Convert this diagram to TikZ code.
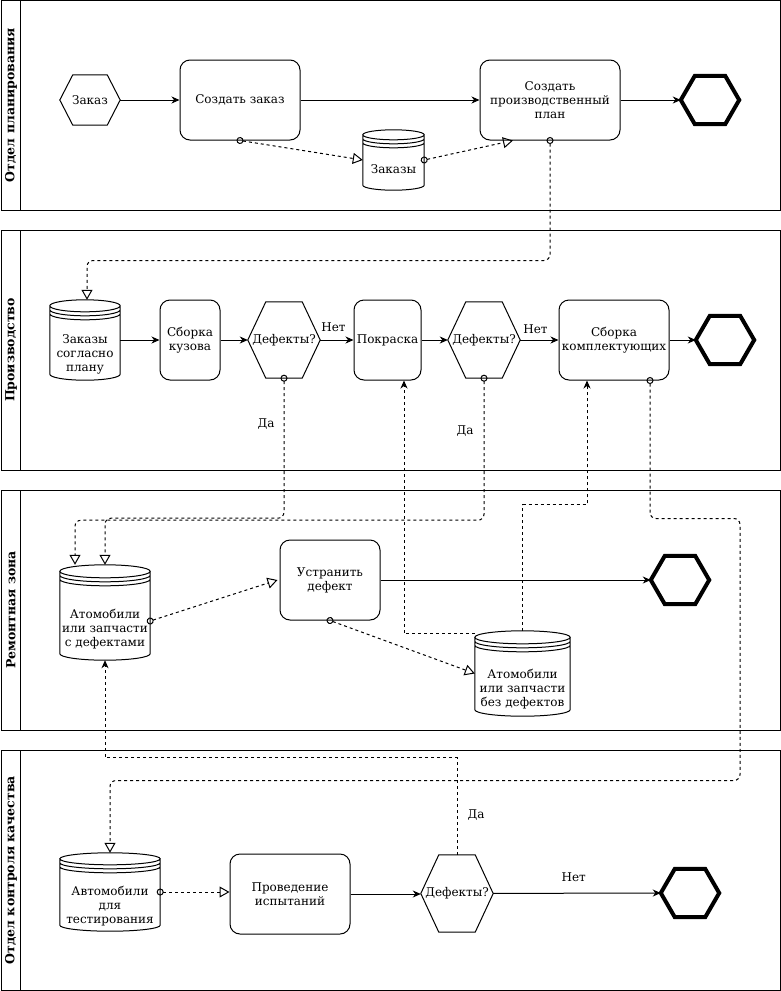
\documentclass[tikz,border=0pt]{standalone}
\usepackage{fontspec}
\setmainfont{DejaVu Serif}
\usetikzlibrary{arrows.meta,calc}

% one unit = 1pt, y grows downwards
\tikzset{
  x=1pt, y=-1pt,
  txt/.style={font=\fontsize{12}{14}\selectfont, align=center, inner sep=0pt},
  task/.style={txt, draw, line width=1pt, rounded corners=10pt},
  slot/.style={txt, minimum width=#1},
  lanetitle/.style={font=\fontsize{12.5}{14}\selectfont\bfseries, rotate=90, inner sep=0pt},
  lanebox/.style={line width=1pt},
  flow/.style={line width=1pt, -{Stealth[length=8pt, width=7pt, inset=2.5pt]}},
  data/.style={line width=1pt, dash pattern=on 3pt off 3pt,
    -{Triangle[open, length=10pt, width=11pt]}},
  origin/.style={shorten <=-3.5pt, {Circle[open, length=7pt]}-{Triangle[open, length=10pt, width=11pt]}},
  solidtip/.style={-{Stealth[length=8pt, width=7pt, inset=2.5pt]}},
  softcorner/.style={rounded corners=6pt},
  tag/.style={font=\fontsize{12}{14}\selectfont, inner sep=0pt},
  thin hex/.style={line width=1pt, line join=miter},
  end hex/.style={line width=4pt, line join=miter},
}

% hexagon drawn on the border box of a node
\newcommand\hexpath[3]{%
  \draw[#3] (#1.west) -- ([xshift=#2]#1.north west) -- ([xshift=-#2]#1.north east)
    -- (#1.east) -- ([xshift=-#2]#1.south east) -- ([xshift=#2]#1.south west) -- cycle;}

% data store: cylinder with two extra rims below the lid
\newcommand\storeshape[2]{%
  \draw[line width=1pt] let \p1=(#1.north west), \p2=(#1.south east) in
    (\x1,\y1-#2) -- (\x1,\y2+#2)
      arc[start angle=180, end angle=360, x radius={(\x2-\x1)/2}, y radius=#2]
      -- (\x2,\y1-#2)
    ({(\x1+\x2)/2},\y1-#2) ellipse[x radius={(\x2-\x1)/2}, y radius=#2]
    (\x1,\y1-#2-4pt) arc[start angle=180, end angle=360, x radius={(\x2-\x1)/2}, y radius=#2]
    (\x1,\y1-#2-8pt) arc[start angle=180, end angle=360, x radius={(\x2-\x1)/2}, y radius=#2];}

% text lowered inside a store without changing the node size
\newcommand\low[2]{\raisebox{-#1}[\height][\depth]{\begin{tabular}{@{}c@{}}#2\end{tabular}}}

\begin{document}
\begin{tikzpicture}
\useasboundingbox (0,0) rectangle (781,991);

% ---------- swimlanes ----------
\draw[lanebox] (1,0.5) rectangle (780,210);
\draw[lanebox] (20.5,0.5) -- (20.5,210);
\node[lanetitle] (l1) at (11,105) {Отдел планирования};

\draw[lanebox] (1,230) rectangle (780,470.5);
\draw[lanebox] (20.5,230) -- (20.5,470.5);
\node[lanetitle] (l2) at (11,350) {Производство};

\draw[lanebox] (1,490) rectangle (780,730.5);
\draw[lanebox] (20.5,490) -- (20.5,730.5);
\node[lanetitle] (l3) at (11,610) {Ремонтная зона};

\draw[lanebox] (1,750) rectangle (780,990);
\draw[lanebox] (20.5,750) -- (20.5,990);
\node[lanetitle] (l4) at (11,870) {Отдел контроля качества};

% ---------- planning ----------
\node[slot=60, minimum height=50] (order) at (90,100) {Заказ};
\hexpath{order}{13pt}{thin hex}
\node[task, minimum width=120, minimum height=80] (create) at (240,100) {Создать заказ};
\node[task, minimum width=140, minimum height=80] (plan) at (550,100) {Создать\\производственный\\план};
\node[slot=58, minimum height=48] (end1) at (710,100) {};
\hexpath{end1}{14pt}{end hex}
\node[slot=61, minimum height=60] (orders) at (393.5,160) {\low{11pt}{Заказы}};
\storeshape{orders}{5pt}

\draw[flow] (order) -- (create);
\draw[flow] (create) -- (plan);
\draw[flow] (plan) -- (end1);
\draw[data, origin] (create.south) -- (orders.west);
\draw[data, origin] (orders.east) -- ([xshift=-37pt]plan.south);

% ---------- production ----------
\node[slot=70, minimum height=80] (planned) at (85,340) {\low{15pt}{Заказы\\согласно\\плану}};
\storeshape{planned}{6pt}
\node[task, minimum width=60, minimum height=80] (body) at (190,340) {Сборка\\кузова};
\node[slot=72, minimum height=76] (gw1) at (284,340) {Дефекты?};
\hexpath{gw1}{18pt}{thin hex}
\node[task, minimum width=67, minimum height=80] (paint) at (387.5,340) {Покраска};
\node[slot=72, minimum height=76] (gw2) at (484,340) {Дефекты?};
\hexpath{gw2}{18pt}{thin hex}
\node[task, minimum width=110, minimum height=80] (parts) at (614,340) {Сборка\\комплектующих};
\node[slot=58, minimum height=48] (end2) at (725,340) {};
\hexpath{end2}{14pt}{end hex}

\draw[data, origin, softcorner] (plan.south) -- ++(0,120) -| ([xshift=2pt]planned.north);
\draw[flow] (planned) -- (body);
\draw[flow] (body) -- (gw1);
\draw[flow] (gw1) -- node[tag, pos=0.4, yshift=13pt] {Нет} (paint);
\draw[flow] (paint) -- (gw2);
\draw[flow] (gw2) -- node[tag, pos=0.4, yshift=11pt] {Нет} (parts);
\draw[flow] (parts) -- (end2.west);

% ---------- repair area ----------
\node[slot=90, minimum height=95] (faulty) at (105,612.5) {\low{17.5pt}{Атомобили\\или запчасти\\с дефектами}};
\storeshape{faulty}{6.5pt}
\node[task, minimum width=100, minimum height=80] (fix) at (330,580) {Устранить\\дефект};
\node[slot=58, minimum height=48] (end3) at (680,580) {};
\hexpath{end3}{14pt}{end hex}
\node[slot=95, minimum height=85] (sound) at (522.5,673.5) {\low{16pt}{Атомобили\\или запчасти\\без дефектов}};
\storeshape{sound}{6.5pt}

\draw[data, origin, softcorner] (gw1.south) -- node[tag, pos=0.33, left=9pt] {Да} ++(0,140) -| (faulty.north);
\draw[data, origin, softcorner] (gw2.south) -- node[tag, pos=0.37, left=10pt] {Да} ++(0,142) -| ([xshift=-30pt]faulty.north);
\draw[data, origin] ([yshift=-8.5pt]faulty.east) -- ([xshift=-2pt]fix.west);
\draw[flow] (fix) -- (end3.west);
\draw[data, origin] (fix.south) -- (sound.west);
\draw[data, solidtip] ([yshift=-3pt]sound.north west) -| ([xshift=16.5pt]paint.south);
\draw[data, solidtip] (sound.north) -- ++(0,-126) -| ([xshift=-27pt]parts.south);

% ---------- quality control ----------
\node[slot=100, minimum height=78] (testing) at (110,892) {\low{15pt}{Автомобили\\для\\тестирования}};
\storeshape{testing}{6pt}
\node[task, minimum width=120, minimum height=80] (trial) at (290,894) {Проведение\\испытаний};
\node[slot=72, minimum height=77] (gw3) at (457,893.5) {Дефекты?};
\hexpath{gw3}{18pt}{thin hex}
\node[slot=58, minimum height=48] (end4) at (690,893) {};
\hexpath{end4}{14pt}{end hex}

\draw[data, origin, softcorner] ([xshift=36pt]parts.south) -- ++(0,138) -- ++(90,0) -- ++(0,262) -| (testing.north);
\draw[data, origin] (testing.east) -- (testing.east -| trial.west);
\draw[flow] (trial.east) -- (trial.east -| gw3.west);
\draw[flow] (gw3) -- node[tag, pos=0.48, yshift=16pt] {Нет} (end4.west);
\draw[data, solidtip] (gw3.north) -- node[tag, pos=0.41, right=10pt] {Да} ++(0,-97) -| (faulty.south);
\end{tikzpicture}
\end{document}
